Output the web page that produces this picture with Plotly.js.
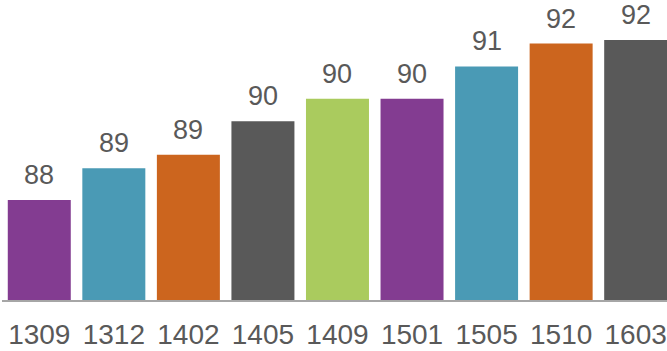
<!DOCTYPE html>
<html>
<head>
<meta charset="utf-8">
<script src="https://cdn.plot.ly/plotly-3.0.1.min.js"></script>
<style>html,body{margin:0;padding:0;background:#fff;}#chart{width:667px;height:351px;}</style>
</head>
<body>
<div id="chart"></div>
<script>
const categories = ["1309", "1312", "1402", "1405", "1409", "1501", "1505", "1510", "1603"];
const values = [88.22, 88.93, 89.23, 89.97, 90.47, 90.47, 91.19, 91.70, 91.78];
const colors = ["#833C91", "#4A9AB5", "#CC651E", "#595959", "#AACB5E", "#833C91", "#4A9AB5", "#CC651E", "#595959"];

const font = "Liberation Sans, Arial, sans-serif";
const trace = {
  type: "bar",
  x: categories,
  y: values,
  marker: {color: colors},
  hoverinfo: "none"
};

const annotations = categories.map((c, i) => ({
  x: i, y: values[i], xref: "x", yref: "y",
  text: String(Math.round(values[i])),
  showarrow: false, yanchor: "bottom", yshift: 8,
  font: {family: font, size: 27, color: "#595959"}
}));

const layout = {
  width: 667, height: 351,
  margin: {l: 2, r: 0, t: 0, b: 51, pad: 0},
  paper_bgcolor: "#ffffff", plot_bgcolor: "#ffffff",
  showlegend: false,
  bargap: 0.155,
  xaxis: {
    type: "category", range: [-0.5, 8.42],
    showline: true, linecolor: "#a6a6a6", linewidth: 1.5,
    showgrid: false, zeroline: false, ticks: "",
    ticklabelstandoff: 9,
    tickfont: {family: font, size: 28, color: "#595959"}
  },
  yaxis: {
    range: [86, 86 + 300 / 45], visible: false, showgrid: false, zeroline: false
  },
  annotations: annotations
};

Plotly.newPlot("chart", [trace], layout, {staticPlot: true});
</script>
</body>
</html>
